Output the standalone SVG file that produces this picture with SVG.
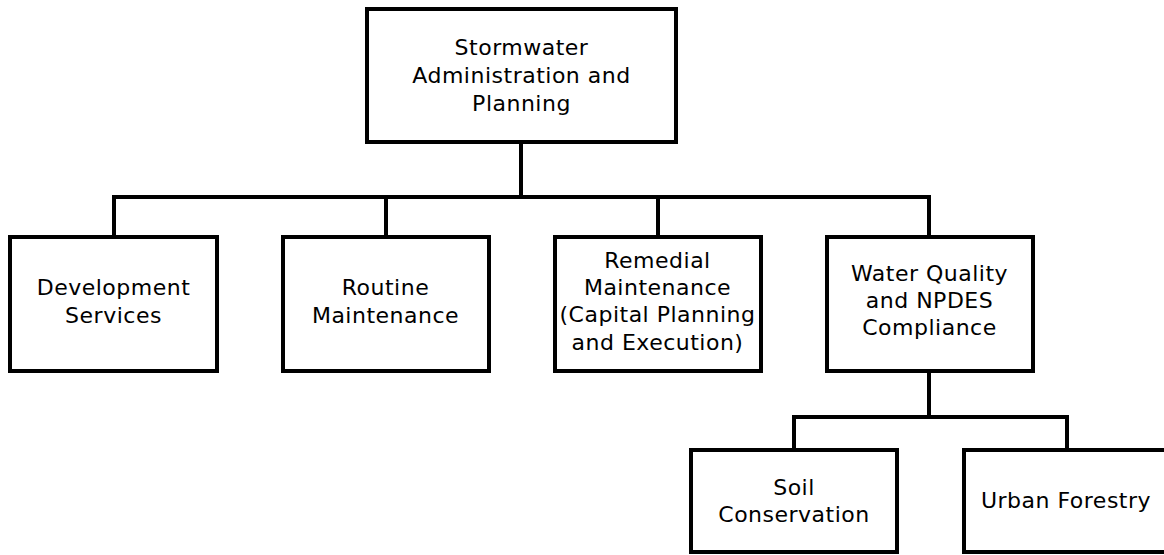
<svg xmlns="http://www.w3.org/2000/svg" width="1164" height="555" viewBox="0 0 1164 555">
<style>
.box{fill:#fff;stroke:#000;stroke-width:4}
.con{fill:none;stroke:#000;stroke-width:4}
text{font-family:"DejaVu Sans",Verdana,sans-serif;font-size:22px;letter-spacing:0.5px;fill:#000;text-anchor:middle}
</style>
<rect width="1164" height="555" fill="#fff"/>
<g id="connectors">
<path class="con" d="M521 142V197M114 237V197H929V237M386 197V237M658 197V237"/>
<path class="con" d="M929 371V417M794 450V417H1067V450"/>
</g>
<g id="n-admin">
<rect class="box" x="367" y="9" width="309" height="133"/>
<text x="521.5" y="55">Stormwater</text>
<text x="521.5" y="83">Administration and</text>
<text x="521.5" y="111">Planning</text>
</g>
<g id="n-dev">
<rect class="box" x="10" y="237" width="207" height="134"/>
<text x="113.5" y="295">Development</text>
<text x="113.5" y="323">Services</text>
</g>
<g id="n-routine">
<rect class="box" x="283" y="237" width="206" height="134"/>
<text x="385.5" y="295">Routine</text>
<text x="385.5" y="323">Maintenance</text>
</g>
<g id="n-remedial">
<rect class="box" x="555" y="237" width="206" height="134"/>
<text x="657.5" y="268">Remedial</text>
<text x="657.5" y="295">Maintenance</text>
<text x="657.5" y="322">(Capital Planning</text>
<text x="657.5" y="350">and Execution)</text>
</g>
<g id="n-water">
<rect class="box" x="827" y="237" width="206" height="134"/>
<text x="929.5" y="281">Water Quality</text>
<text x="929.5" y="308">and NPDES</text>
<text x="929.5" y="335">Compliance</text>
</g>
<g id="n-soil">
<rect class="box" x="691" y="450" width="206" height="102"/>
<text x="794" y="495">Soil</text>
<text x="794" y="522">Conservation</text>
</g>
<g id="n-urban">
<rect class="box" x="964" y="450" width="207" height="102"/>
<text x="1066" y="508">Urban Forestry</text>
</g>
</svg>
